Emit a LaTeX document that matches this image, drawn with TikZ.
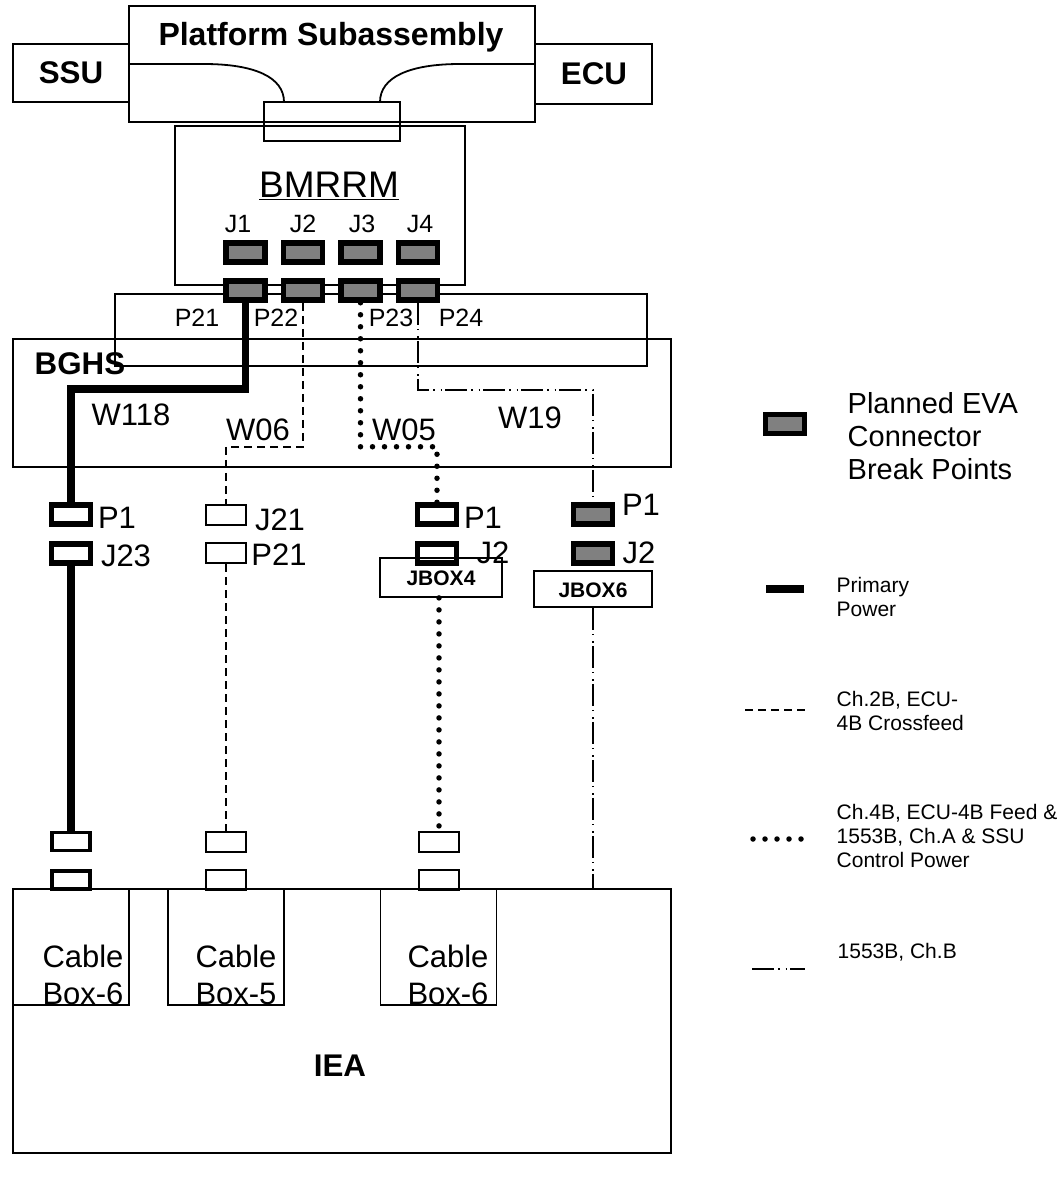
\documentclass[tikz,border=0pt]{standalone}
\usepackage{fontspec}
\setmainfont{Liberation Sans}
\usepackage{tikz}
\usetikzlibrary{positioning,calc}
\usepackage{xcolor}
\definecolor{ConnGray}{HTML}{808080}
\newlength{\px}
\setlength{\px}{0.75pt}
\tikzset{
  box/.style={draw,line width=1.8\px,inner sep=0pt},
  breakpoint/.style={draw,line width=5.5\px,fill=ConnGray,minimum width=39\px,minimum height=19\px,inner sep=0pt},
  heavyplug/.style={breakpoint,fill=white},
  midplug/.style={draw,line width=3.5\px,minimum width=38\px,minimum height=18\px,inner sep=0pt},
  thinplug/.style={draw,line width=2\px,minimum width=40\px,minimum height=20\px,inner sep=0pt},
  primarywire/.style={line width=7.5\px},
  crosswire/.style={line width=1.5\px,dash pattern=on 8\px off 5\px},
  feedwire/.style={line width=5.5\px,line cap=round,dash pattern=on 0pt off 12\px},
  chbwire/.style={line width=1.5\px,dash pattern=on 22\px off 4\px on 1.5\px off 6\px on 1.5\px off 3\px},
  bigbold/.style={font=\fontsize{23.5}{28}\selectfont\bfseries},
  biglabel/.style={font=\fontsize{23.25}{27.75}\selectfont},
  midlabel/.style={font=\fontsize{18.75}{22}\selectfont},
  leglabel/.style={font=\fontsize{15.75}{18}\selectfont,align=left,anchor=west},
}
\begin{document}
\begin{tikzpicture}[x=0.75pt,y=-0.75pt,node distance=13\px]
  \useasboundingbox (0,0) rectangle (1063,1179);
  % upper assemblies
  \node[box,minimum width=406\px,minimum height=116\px] (platform) at (332,64) {};
  \node[box,minimum width=116\px,minimum height=58\px] (ssu) at (71,73) {};
  \node[box,minimum width=117\px,minimum height=60\px] (ecu) at (593.5,74) {};
  \node[box,minimum width=136\px,minimum height=39\px] (adapter) at (332,121.5) {};
  \node[box,minimum width=290\px,minimum height=159\px] (bmrrm) at (320,205.5) {};
  \node[box,minimum width=532\px,minimum height=72\px] (harness) at (381,330) {};
  \node[box,minimum width=658\px,minimum height=128\px] (bghs) at (342,403) {};
  \node[bigbold,font=\fontsize{24}{28}\selectfont\bfseries] (platformlabel) at (331,37) {Platform Subassembly};
  \node[bigbold] (ssulabel) at (71,73) {SSU};
  \node[bigbold] (eculabel) at (594,74) {ECU};
  \node[bigbold] (bghslabel) at (80,364) {BGHS};
  \node[font=\fontsize{27.75}{32}\selectfont] (bmrrmlabel) at (329,186) {\underline{BMRRM}};
  \coordinate (cableleft) at (284,102);
  \coordinate (cableright) at (380,102);
  \draw[line width=1.8\px] (platform.west) -- ++(76,0) .. controls +(50,0) and +(0,-25) .. (cableleft);
  \draw[line width=1.8\px] (platform.east) -- ++(-76,0) .. controls +(-50,0) and +(0,-25) .. (cableright);
  % BMRRM connectors
  \node[breakpoint] (j1) at (245.5,252.5) {};
  \node[breakpoint,right=of j1] (j2) {};
  \node[breakpoint,right=of j2] (j3) {};
  \node[breakpoint,right=of j3] (j4) {};
  \node[breakpoint] (p21) at (245.5,290.5) {};
  \node[breakpoint,right=of p21] (p22) {};
  \node[breakpoint,right=of p22] (p23) {};
  \node[breakpoint,right=of p23] (p24) {};
  \node[midlabel] (j1label) at (238,224) {J1};
  \node[midlabel] (j2label) at (303,224) {J2};
  \node[midlabel] (j3label) at (362,224) {J3};
  \node[midlabel] (j4label) at (420,224) {J4};
  \node[midlabel] (p21label) at (197,318) {P21};
  \node[midlabel] (p22label) at (276,318) {P22};
  \node[midlabel] (p23label) at (391,318) {P23};
  \node[midlabel] (p24label) at (461,318) {P24};
  \node[biglabel] (w118label) at (131,415) {W118};
  \node[biglabel] (w06label) at (258,430) {W06};
  \node[biglabel] (w05label) at (404,430) {W05};
  \node[biglabel] (w19label) at (530,418) {W19};
  % wire ends below the BGHS
  \node[heavyplug] (p1a) at (71,514.5) {};
  \node[heavyplug] (j23) at (71,553.5) {};
  \node[thinplug] (j21) at (226,515) {};
  \node[thinplug] (p21b) at (226,553) {};
  \node[heavyplug] (p1c) at (437,514.5) {};
  \node[heavyplug] (j2c) at (437,553.5) {};
  \node[breakpoint] (p1d) at (593,514.5) {};
  \node[breakpoint] (j2d) at (593,553.5) {};
  \node[box,minimum width=122\px,minimum height=39\px] (jbox4) at (441,577.5) {};
  \node[box,minimum width=118\px,minimum height=36\px] (jbox6) at (593,589) {};
  \node[font=\fontsize{15.75}{18}\selectfont\bfseries] (jbox4label) at (441,578) {JBOX4};
  \node[font=\fontsize{15.75}{18}\selectfont\bfseries] (jbox6label) at (593,590) {JBOX6};
  \node[biglabel] (p1alabel) at (117,518) {P1};
  \node[biglabel] (j23label) at (126,556) {J23};
  \node[biglabel] (j21label) at (280,520) {J21};
  \node[biglabel] (p21blabel) at (279,555) {P21};
  \node[biglabel] (p1clabel) at (483,518) {P1};
  \node[biglabel] (j2clabel) at (493,553) {J2};
  \node[biglabel] (p1dlabel) at (641,505) {P1};
  \node[biglabel] (j2dlabel) at (639,553) {J2};
  % IEA
  \node[midplug] (plugaup) at (71,841.5) {};
  \node[midplug] (plugalow) at (71,880) {};
  \node[thinplug] (plugbup) at (226,842) {};
  \node[thinplug] (plugblow) at (226,880) {};
  \node[thinplug] (plugcup) at (439,842) {};
  \node[thinplug] (plugclow) at (439,880) {};
  \node[box,minimum width=658\px,minimum height=264\px] (iea) at (342,1021) {};
  \node[box,minimum width=116\px,minimum height=116\px] (boxa) at (71,947) {};
  \node[box,minimum width=116\px,minimum height=116\px] (boxb) at (226,947) {};
  \node[box,minimum width=116\px,minimum height=116\px] (boxc) at (438.5,947) {};
  \node[biglabel,align=center] (boxalabel) at (83,975) {Cable\\Box-6};
  \node[biglabel,align=center] (boxblabel) at (236,975) {Cable\\Box-5};
  \node[biglabel,align=center] (boxclabel) at (448,975) {Cable\\Box-6};
  \node[bigbold] (iealabel) at (340,1066) {IEA};
  % harness wires
  \draw[primarywire] (p21.south) -- ++(0,86) -| (p1a.north);
  \draw[primarywire] (j23.south) -- (plugaup.north);
  \draw[crosswire] (p22.south) -- ++(0,144) -| (j21.north);
  \draw[crosswire] (p21b.south) -- (plugbup.north);
  \draw[feedwire] (p23.south) -- ++(0,144) -| (p1c.north);
  \draw[feedwire] (plugcup.north |- jbox4.south) -- (plugcup.north);
  \draw[chbwire] (p24.south) -- ++(0,87) -| (p1d.north);
  \draw[chbwire] (jbox6.south) -- (jbox6.south |- iea.north);
  % legend
  \node[breakpoint] (legbreak) at (785,424) {};
  \node[anchor=west,align=left,font=\fontsize{21.75}{25}\selectfont] (legbreaklabel) at (843,436) {Planned EVA\\Connector\\Break Points};
  \coordinate (legprimary) at (766,589);
  \coordinate (legcross) at (745,710);
  \coordinate (legfeed) at (753,839);
  \coordinate (legchb) at (752,969);
  \draw[primarywire] (legprimary) -- ++(38,0);
  \draw[crosswire] (legcross) -- ++(60,0);
  \draw[feedwire] (legfeed) -- ++(54,0);
  \draw[chbwire] (legchb) -- ++(53,0);
  \node[leglabel] (legprimarylabel) at (832,597) {Primary\\Power};
  \node[leglabel] (legcrosslabel) at (832,711) {Ch.2B, ECU-\\4B Crossfeed};
  \node[leglabel] (legfeedlabel) at (832,836) {Ch.4B, ECU-4B Feed \&\\1553B, Ch.A \& SSU\\Control Power};
  \node[leglabel] (legchblabel) at (833,952) {1553B, Ch.B};
\end{tikzpicture}
\end{document}
